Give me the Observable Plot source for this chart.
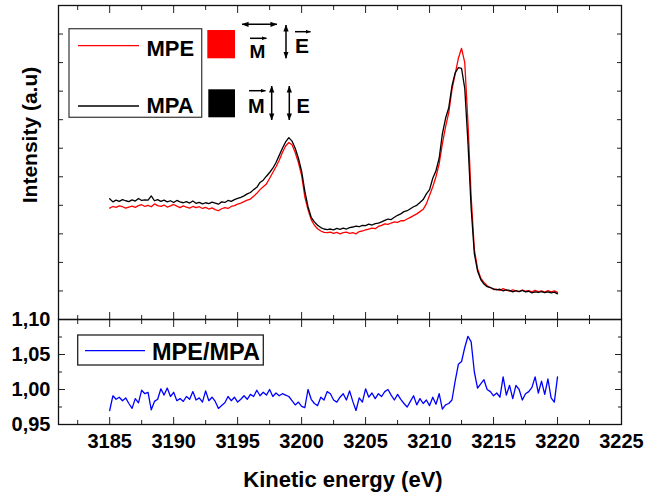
<!DOCTYPE html>
<html><head><meta charset="utf-8">
<script src="https://cdn.jsdelivr.net/npm/d3@7"></script>
<script src="https://cdn.jsdelivr.net/npm/@observablehq/plot@0.6"></script>
<style>
body{margin:0;background:#fff;}
#chart{position:relative;width:647px;height:496px;font-family:"Liberation Sans",Arial,sans-serif;}
#chart svg{position:absolute;left:0;}
</style></head><body><div id="chart"></div>
<script>
// Energy grid (eV): 3185 to 3220 in 0.25 eV steps
const energyStart = 3185, energyStep = 0.25;

// MPE intensity (a.u), red
const mpe = [
3.90,3.96,3.93,3.98, 3.95,3.90,3.94,3.97, 3.93,3.99,4.02,3.96, 4.00,3.95,4.05,3.99,
3.96,4.01,3.94,3.98, 4.03,3.97,3.92,3.98, 3.94,3.90,3.96,3.92, 3.95,3.89,3.93,3.87,
3.91,3.85,3.81,3.88, 3.92,3.89,3.96,3.99, 4.04,4.08,4.13,4.18, 4.22,4.32,4.42,4.55,
4.65,4.75,4.95,5.15, 5.35,5.58,5.85,6.08, 6.20,6.12,5.85,5.50, 5.05,4.30,3.85,3.50,
3.30,3.18,3.10,3.05, 3.04,3.06,3.02,3.05, 3.00,3.04,3.06,3.02, 3.04,3.00,3.08,3.10,
3.14,3.17,3.20,3.18, 3.26,3.30,3.35,3.33, 3.38,3.42,3.40,3.46, 3.46,3.52,3.58,3.64,
3.70,3.78,3.86,4.05, 4.35,4.65,5.00,5.45, 6.15,6.75,7.25,8.05, 8.60,9.15,9.50,9.00,
6.90,4.30,2.45,1.78, 1.45,1.30,1.18,1.12, 1.05,1.06,1.02,1.08, 1.03,0.99,1.04,1.00,
0.98,1.03,0.99,1.01, 0.97,1.02,0.98,1.00, 0.96,1.01,0.97,1.00, 0.95
];

// MPA intensity (a.u), black
const mpa = [
4.23,4.12,4.18,4.14, 4.20,4.16,4.13,4.19, 4.15,4.24,4.17,4.19, 4.18,4.33,4.16,4.20,
4.14,4.18,4.12,4.16, 4.10,4.17,4.12,4.09, 4.13,4.08,4.15,4.07, 4.10,4.05,4.09,4.06,
4.11,4.08,4.04,4.12, 4.10,4.17,4.14,4.20, 4.24,4.28,4.33,4.40, 4.45,4.55,4.63,4.80,
4.88,5.02,5.15,5.30, 5.50,5.75,6.00,6.22, 6.37,6.25,6.00,5.65, 5.20,4.50,3.95,3.58,
3.42,3.30,3.22,3.17, 3.15,3.17,3.14,3.19, 3.16,3.20,3.17,3.22, 3.24,3.27,3.25,3.30,
3.29,3.34,3.31,3.36, 3.38,3.42,3.47,3.52, 3.50,3.58,3.65,3.70, 3.78,3.81,3.88,3.95,
4.00,4.10,4.20,4.40, 4.55,4.95,5.21,5.65, 6.50,7.05,7.42,8.18, 8.64,8.82,8.80,8.10,
6.20,3.90,2.30,1.70, 1.40,1.24,1.15,1.12, 1.07,1.04,1.06,1.00, 1.04,1.02,0.97,1.01,
0.98,1.02,0.97,0.99, 0.93,0.97,0.95,0.98, 0.94,0.97,0.93,0.96, 0.90
];

// MPE/MPA ratio, blue
const ratio = [
0.970,0.991,0.986,0.989, 0.984,0.988,0.980,0.973, 0.987,0.981,0.999,0.994, 0.996,0.971,0.983,0.986,
1.001,0.992,1.002,0.990, 0.996,0.984,0.987,0.983, 0.990,0.986,0.997,0.985, 0.988,0.982,0.998,0.984,
0.989,0.983,0.973,0.977, 0.981,0.990,0.984,0.989, 0.982,0.986,0.991,0.986, 0.993,0.990,0.999,0.991,
0.996,0.992,1.000,0.990, 0.995,0.991,0.994,0.992, 0.990,0.984,0.978,0.982, 0.976,0.974,1.000,0.986,
0.980,0.977,0.989,0.985, 0.997,0.994,0.985,0.982, 0.989,0.994,0.985,0.998, 0.983,0.970,0.988,0.982,
1.001,0.989,0.995,0.987, 0.994,0.990,0.997,1.000, 0.992,0.985,0.993,0.986, 0.980,0.975,0.983,0.991,
0.978,0.987,0.980,0.985, 0.977,0.989,0.979,0.994, 0.972,0.978,0.980,0.985, 1.012,1.036,1.040,1.060,
1.076,1.068,1.025,1.002, 1.008,1.014,1.000,0.997, 0.991,0.995,0.989,1.018, 0.992,1.006,0.987,1.006,
1.000,0.985,0.994,0.997, 1.003,1.018,0.995,1.012, 0.993,1.015,0.988,0.982, 1.018
];

// Axis ticks
const xDomain = [3181, 3225];
const xMajor = [3185, 3190, 3195, 3200, 3205, 3210, 3215, 3220, 3225];
const xMinor = [3182.5, 3187.5, 3192.5, 3197.5, 3202.5, 3207.5, 3212.5, 3217.5, 3222.5];
const topDomain = [0, 11];
const topTicks = [1, 2, 3, 4, 5, 6, 7, 8, 9, 10];
const ratioDomain = [0.95, 1.10];
const ratioMajor = [0.95, 1.00, 1.05, 1.10];
const ratioMinor = [0.975, 1.025, 1.075];

const energy = mpe.map((_, i) => energyStart + i * energyStep);
const topData = energy.map((e, i) => ({e, mpe: mpe[i], mpa: mpa[i]}));
const ratioData = energy.map((e, i) => ({e, r: ratio[i]}));

const font = '"Liberation Sans", Arial, sans-serif';
const baseStyle = {fontFamily: font, fontSize: "20px", fontWeight: "bold", background: "transparent", color: "#000", overflow: "visible"};
const blank = () => "";
const W = 647, ML = 58, MR = 26;

const topPlot = Plot.plot({
  width: W, height: 320, marginLeft: ML, marginRight: MR, marginTop: 5, marginBottom: 1,
  style: baseStyle,
  x: {domain: xDomain},
  y: {domain: topDomain},
  marks: [
    Plot.line(topData, {x: "e", y: "mpe", stroke: "#ff0000", strokeWidth: 1.3}),
    Plot.line(topData, {x: "e", y: "mpa", stroke: "#000000", strokeWidth: 1.3}),
    Plot.axisX({anchor: "bottom", ticks: xMajor, tickSize: -7, tickFormat: blank, label: null, stroke: "#222"}),
    Plot.axisX({anchor: "bottom", ticks: xMinor, tickSize: -4, tickFormat: blank, label: null, stroke: "#222"}),
    Plot.axisX({anchor: "top", ticks: xMajor, tickSize: -7, tickFormat: blank, label: null, stroke: "#222"}),
    Plot.axisX({anchor: "top", ticks: xMinor, tickSize: -4, tickFormat: blank, label: null, stroke: "#222"}),
    Plot.axisY({anchor: "left", ticks: topTicks, tickSize: -5, tickFormat: blank, label: null, stroke: "#222"}),
    Plot.axisY({anchor: "right", ticks: topTicks, tickSize: -5, tickFormat: blank, label: null, stroke: "#222"}),
    Plot.frame({stroke: "#111", strokeWidth: 1.3})
  ]
});
topPlot.style.top = "0px";

const botPlot = Plot.plot({
  width: W, height: 182, marginLeft: ML, marginRight: MR, marginTop: 5, marginBottom: 72,
  style: baseStyle,
  x: {domain: xDomain},
  y: {domain: ratioDomain},
  marks: [
    Plot.line(ratioData, {x: "e", y: "r", stroke: "#0000ff", strokeWidth: 1.3}),
    Plot.axisX({anchor: "bottom", ticks: xMajor, tickSize: -7, tickFormat: blank, label: null, stroke: "#222"}),
    Plot.axisX({anchor: "bottom", ticks: xMinor, tickSize: -4, tickFormat: blank, label: null, stroke: "#222"}),
    Plot.axisX({anchor: "bottom", ticks: xMajor, tickSize: 0, tickPadding: 9, tickFormat: d => String(d), label: null, fill: "#000"}),
    Plot.axisX({anchor: "top", ticks: xMajor, tickSize: -7, tickFormat: blank, label: null, stroke: "#222"}),
    Plot.axisX({anchor: "top", ticks: xMinor, tickSize: -4, tickFormat: blank, label: null, stroke: "#222"}),
    Plot.axisY({anchor: "left", ticks: ratioMajor, tickSize: -7, tickFormat: blank, label: null, stroke: "#222"}),
    Plot.axisY({anchor: "left", ticks: ratioMinor, tickSize: -4, tickFormat: blank, label: null, stroke: "#222"}),
    Plot.axisY({anchor: "left", ticks: ratioMajor, tickSize: 0, tickPadding: 8, tickFormat: d => d.toFixed(2).replace(".", ","), label: null, fill: "#000"}),
    Plot.axisY({anchor: "right", ticks: ratioMajor, tickSize: -7, tickFormat: blank, label: null, stroke: "#222"}),
    Plot.axisY({anchor: "right", ticks: ratioMinor, tickSize: -4, tickFormat: blank, label: null, stroke: "#222"}),
    Plot.frame({stroke: "#111", strokeWidth: 1.3})
  ]
});
botPlot.style.top = "314px";

const chart = document.getElementById("chart");
chart.appendChild(topPlot);
chart.appendChild(botPlot);

// Legends and axis titles (overlay)
const ov = d3.select(chart).append("svg")
  .attr("width", W).attr("height", 496)
  .style("top", "0px").style("pointer-events", "none")
  .style("font-family", font).style("font-weight", "bold");
const defs = ov.append("defs");
defs.append("marker").attr("id", "ah").attr("viewBox", "0 0 8 6").attr("refX", 7.5).attr("refY", 3)
  .attr("markerWidth", 7).attr("markerHeight", 6).attr("markerUnits", "userSpaceOnUse").attr("orient", "auto-start-reverse")
  .append("path").attr("d", "M0,0L8,3L0,6Z").attr("fill", "#000");
defs.append("marker").attr("id", "ahs").attr("viewBox", "0 0 8 6").attr("refX", 7.5).attr("refY", 3)
  .attr("markerWidth", 5).attr("markerHeight", 4).attr("markerUnits", "userSpaceOnUse").attr("orient", "auto-start-reverse")
  .append("path").attr("d", "M0,0L8,3L0,6Z").attr("fill", "#000");

function arrow(x1, y1, x2, y2, both, small) {
  const l = ov.append("line").attr("x1", x1).attr("y1", y1).attr("x2", x2).attr("y2", y2)
    .attr("stroke", "#000").attr("stroke-width", 1.5)
    .attr("marker-end", `url(#${small ? "ahs" : "ah"})`);
  if (both) l.attr("marker-start", `url(#${small ? "ahs" : "ah"})`);
}
function txt(x, y, s, size, anchor) {
  return ov.append("text").attr("x", x).attr("y", y).attr("font-size", size)
    .attr("text-anchor", anchor || "start").attr("fill", "#000").text(s);
}

// Top legend
ov.append("rect").attr("x", 69).attr("y", 28.7).attr("width", 132.7).attr("height", 88.6)
  .attr("fill", "none").attr("stroke", "#444").attr("stroke-width", 1.3);
ov.append("line").attr("x1", 78).attr("x2", 139).attr("y1", 45.7).attr("y2", 45.7).attr("stroke", "#ff0000").attr("stroke-width", 1.3);
ov.append("line").attr("x1", 78).attr("x2", 139).attr("y1", 106).attr("y2", 106).attr("stroke", "#000").attr("stroke-width", 1.3);
txt(146.5, 55.5, "MPE", 22);
txt(146.5, 113.3, "MPA", 22);
ov.append("rect").attr("x", 207.3).attr("y", 30).attr("width", 27.7).attr("height", 28.3).attr("fill", "#ff0000");
ov.append("rect").attr("x", 208.3).attr("y", 89.3).attr("width", 26.7).attr("height", 28).attr("fill", "#000");
// row 1: M (arrow) with horizontal double arrow, vertical double arrow, E (arrow)
arrow(242, 24.3, 277, 24.3, true, false);
txt(249.5, 58.3, "M", 19);
arrow(250, 38.3, 266.5, 38.3, false, true);
arrow(286, 25, 286, 58.3, true, false);
txt(295, 53.3, "E", 21);
arrow(295, 31.7, 310.5, 31.7, false, true);
// row 2
txt(248, 113.3, "M", 20);
arrow(249, 90.7, 265.5, 90.7, false, true);
arrow(271.7, 86, 271.7, 120, true, false);
arrow(289.3, 86, 289.3, 120, true, false);
txt(296.5, 113.3, "E", 20);

// Bottom legend
ov.append("rect").attr("x", 77.7).attr("y", 335).attr("width", 185.6).attr("height", 30)
  .attr("fill", "none").attr("stroke", "#222").attr("stroke-width", 1.3);
ov.append("line").attr("x1", 85).attr("x2", 145).attr("y1", 350.7).attr("y2", 350.7).attr("stroke", "#0000ff").attr("stroke-width", 1.3);
txt(152, 360, "MPE/MPA", 23.5);

// Axis titles
txt(343, 487, "Kinetic energy (eV)", 22, "middle");
txt(0, 0, "Intensity (a.u)", 21, "middle").attr("transform", "translate(37,135) rotate(-90)");
</script>
</body></html>
